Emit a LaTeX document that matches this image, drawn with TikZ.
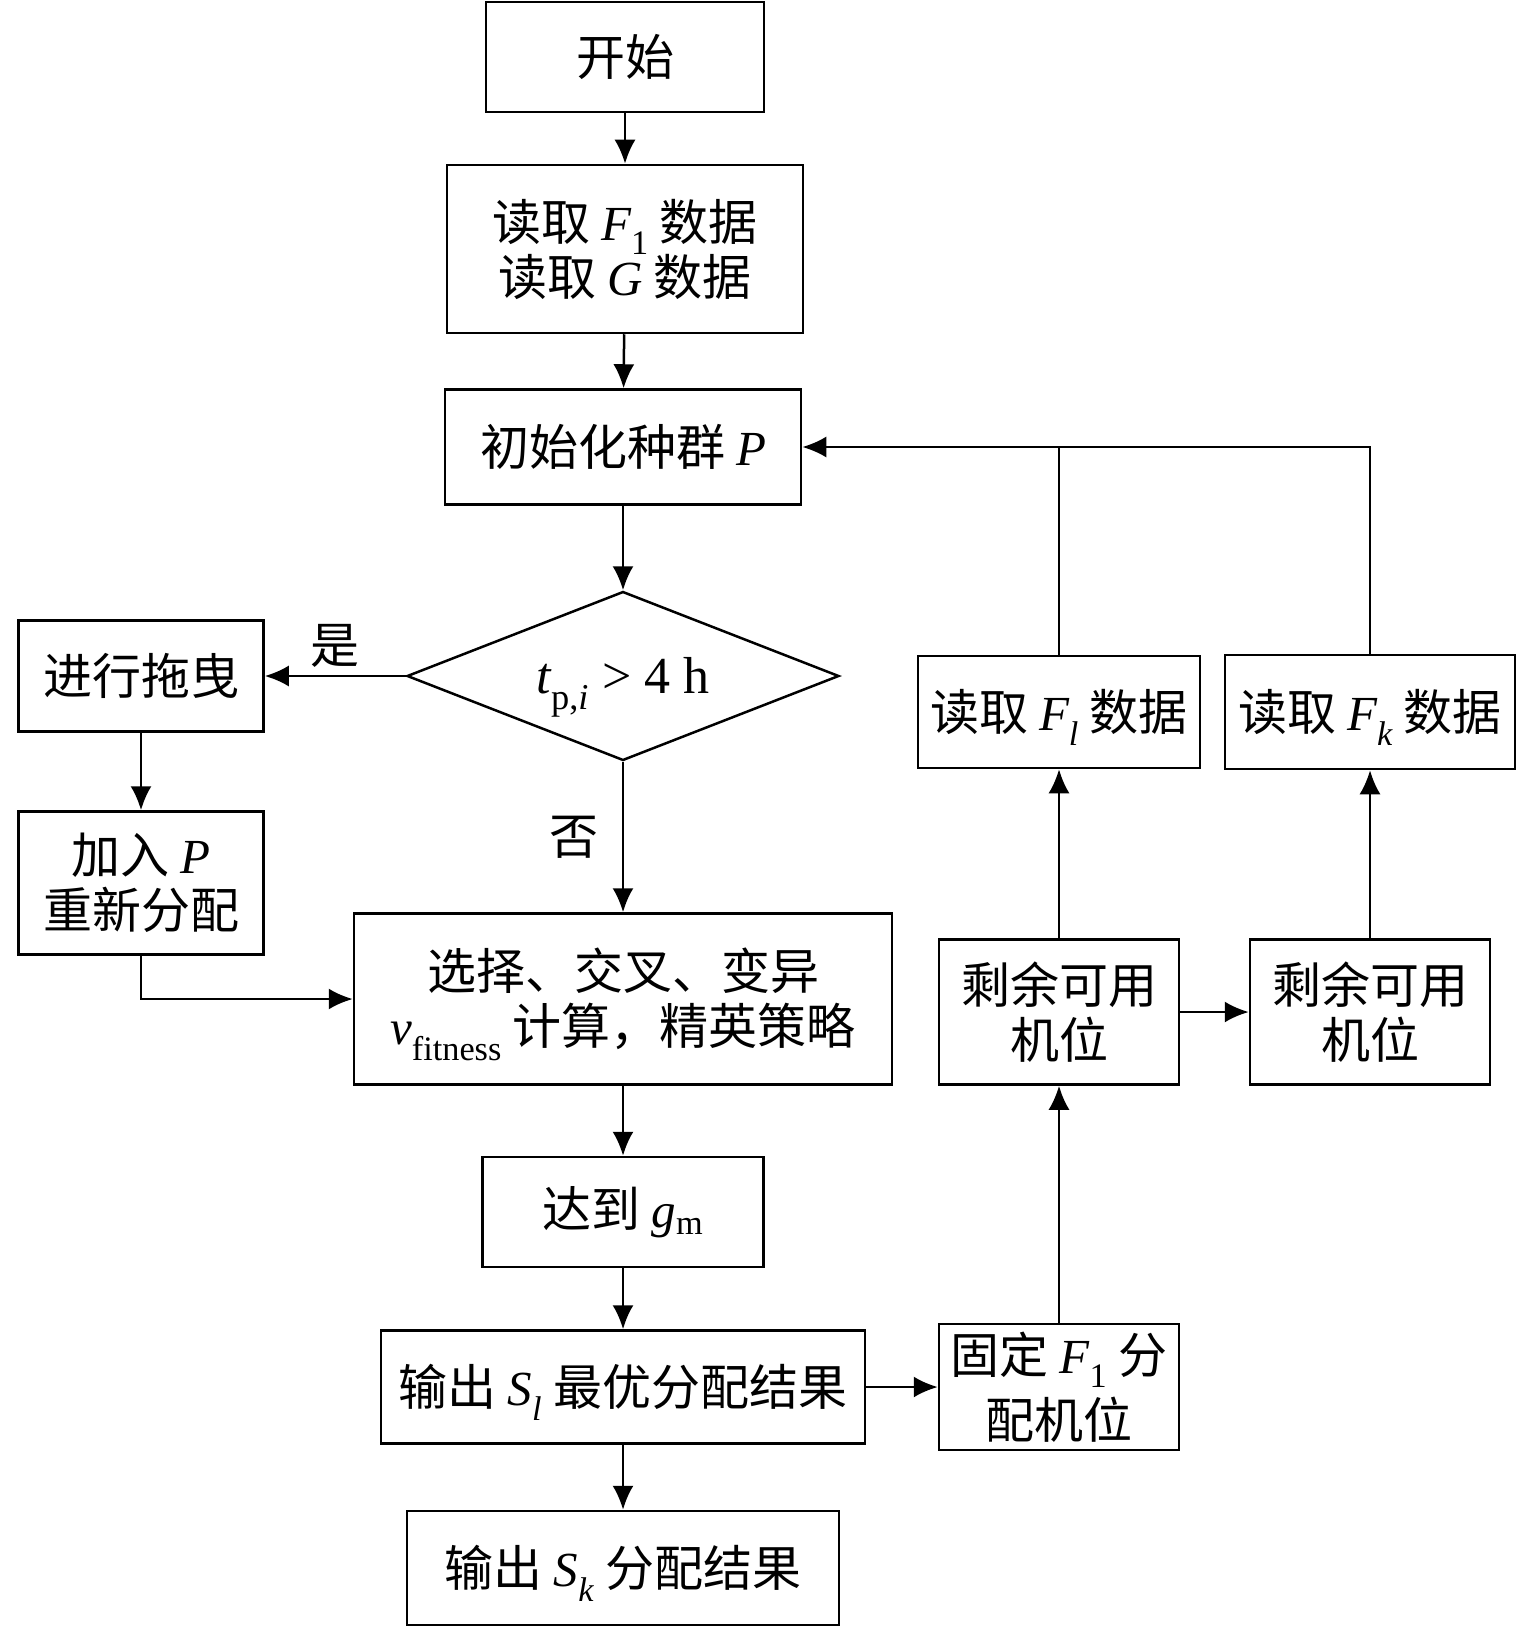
\documentclass[tikz,border=0pt]{standalone}
\usepackage{fontspec}
\setmainfont{Liberation Serif}
\newfontfamily\cjk{Noto Sans CJK SC}
\usetikzlibrary{shapes.geometric,arrows.meta}

\newcommand{\lit}[1]{{\rmfamily\itshape #1}}
\newcommand{\lsub}[1]{\smash{\textsubscript{\rmfamily #1}}}

\tikzset{
  box/.style={rectangle, draw, line width=2.5pt, inner sep=0pt, align=center,
    font=\cjk\fontsize{49}{55}\selectfont},
  cond/.style={diamond, draw, line width=2.5pt, inner sep=0pt, aspect=2.5,
    font=\rmfamily\fontsize{52}{56}\selectfont},
  flow/.style={line width=2.5pt, ->},
  lab/.style={font=\cjk\fontsize{49}{55}\selectfont}
}

\begin{document}
\begin{tikzpicture}[x=1pt, y=-1pt, >={Latex[length=24pt,width=21pt]}]
\useasboundingbox (0,0) rectangle (1535,1627);

% main column
\node[box, minimum width=278pt, minimum height=110pt] (start) at (625,57) {开始};
\node[box, minimum width=356pt, minimum height=168pt] (readf) at (625,249)
  {读取 \lit{F}\lsub{1} 数据\\读取 \lit{G} 数据};
\node[box, minimum width=356pt, minimum height=115pt] (init) at (623,447)
  {初始化种群 \lit{P}};
\node[cond, minimum width=432pt, minimum height=169pt] (tp) at (623,676)
  {\lit{t}\lsub{p,\lit{i}} > 4 h};
\node[box, minimum width=538pt, minimum height=171pt] (sel) at (623,999)
  {选择、交叉、变异\\\lit{v}\lsub{fitness} 计算，精英策略};
\node[box, minimum width=281pt, minimum height=110pt] (reach) at (623,1212)
  {达到 \lit{g}\lsub{m}};
\node[box, minimum width=484pt, minimum height=113pt] (outl) at (623,1387)
  {输出 \lit{S}\lsub{\lit{l}} 最优分配结果};
\node[box, minimum width=432pt, minimum height=114pt] (outk) at (623,1568)
  {输出 \lit{S}\lsub{\lit{k}} 分配结果};

% left branch
\node[box, minimum width=245pt, minimum height=111pt] (drag) at (141,676) {进行拖曳};
\node[box, minimum width=245pt, minimum height=143pt] (addp) at (141,883)
  {加入 \lit{P}\\重新分配};

% right branch
\node[box, minimum width=240pt, minimum height=126pt] (fix) at (1059,1387)
  {固定 \lit{F}\lsub{1} 分\\[10pt]配机位};
\node[box, minimum width=240pt, minimum height=145pt] (rema) at (1059,1012)
  {剩余可用\\机位};
\node[box, minimum width=240pt, minimum height=145pt] (remb) at (1370,1012)
  {剩余可用\\机位};
\node[box, minimum width=282pt, minimum height=112pt] (readl) at (1059,712)
  {读取 \lit{F}\lsub{\lit{l}} 数据};
\node[box, minimum width=290pt, minimum height=114pt] (readk) at (1370,712)
  {读取 \lit{F}\lsub{\lit{k}} 数据};

\draw[flow] (start) -- (readf);
\draw[flow] (readf) -- (init);
\draw[flow] (init) -- (tp);
\draw[flow] (tp.west) -- (drag) node[lab, midway, above=4pt] {是};
\draw[flow] (tp.south) -- (sel) node[lab, midway, left=20pt] {否};
\draw[flow] (drag) -- (addp);
\draw[flow] (addp.south) |- (sel.west);
\draw[flow] (sel) -- (reach);
\draw[flow] (reach) -- (outl);
\draw[flow] (outl) -- (outk);
\draw[flow] (outl) -- (fix);
\draw[flow] (fix) -- (rema);
\draw[flow] (rema) -- (remb);
\draw[flow] (rema) -- (readl);
\draw[flow] (remb) -- (readk);
\draw[flow] (readk.north) |- (init.east);
\draw[line width=2.5pt] (readl.north) -- (readl.north |- init.east);

\end{tikzpicture}
\end{document}
